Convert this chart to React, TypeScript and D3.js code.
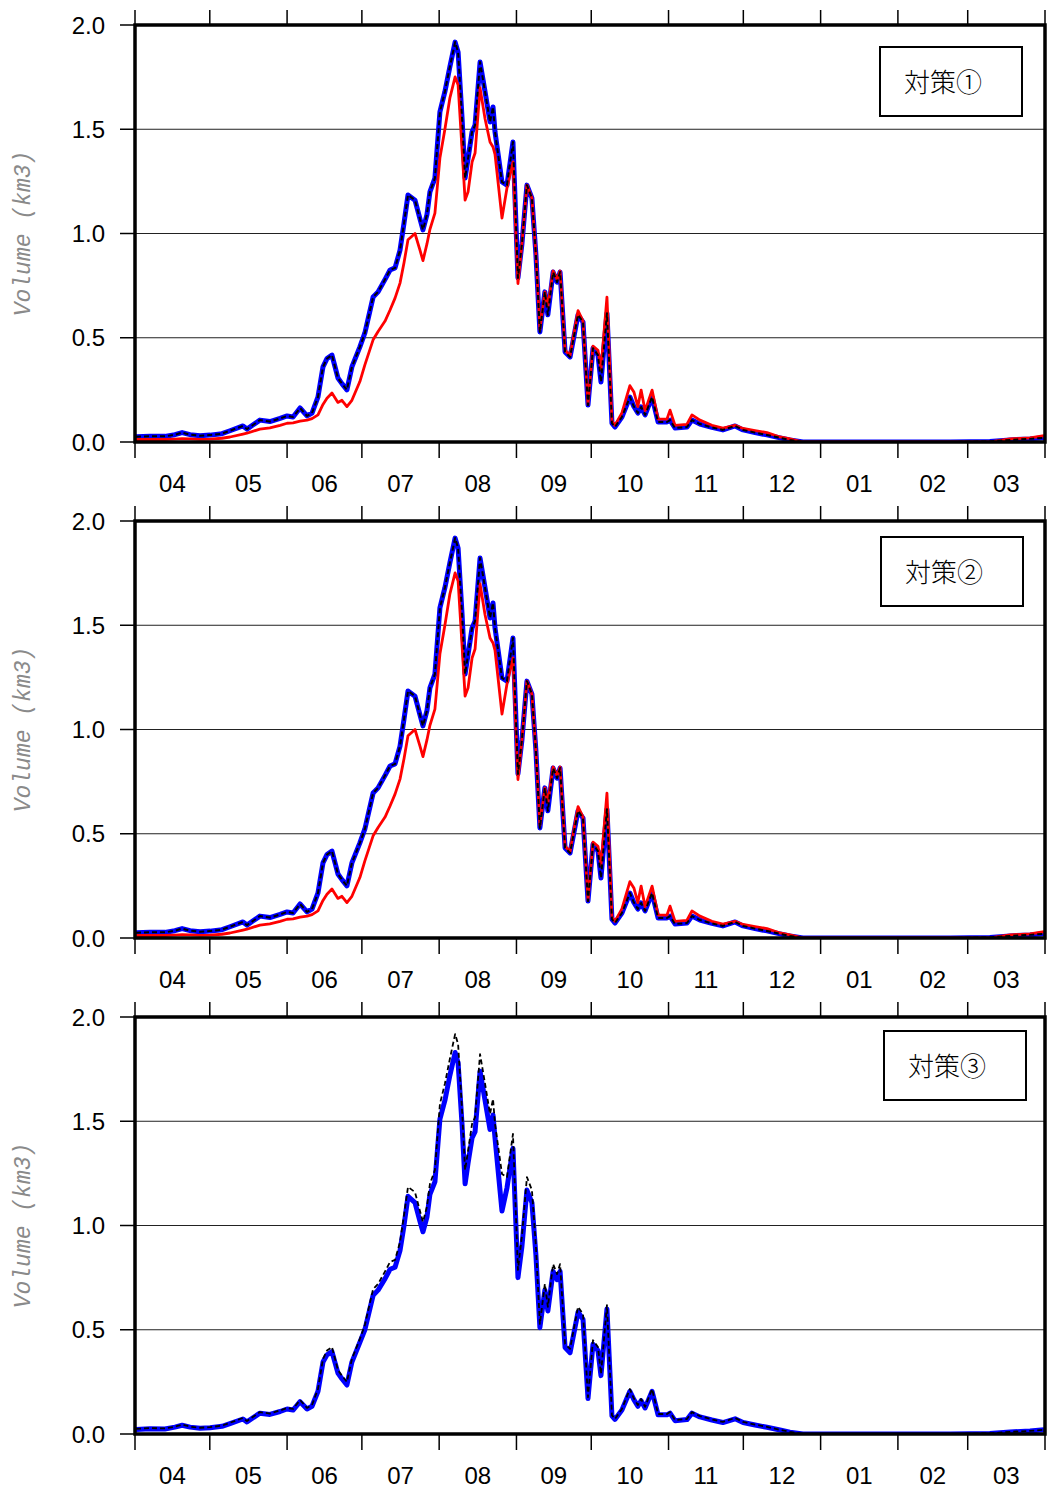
import React from "react";
import * as d3 from "d3";

// Day of the water year (0 = 1 April) for each sample
const DAYS = [
  0.4, 6, 12, 16, 18.9, 22.1, 26.1, 30.1, 34.9, 38.1,
  43.3, 44.9, 50.1, 54.1, 58.2, 61, 63.4, 66.2, 69, 71,
  73.4, 75.4, 77, 79, 81.4, 83, 85, 87, 90.2, 92.2,
  95.5, 97.5, 100.3, 102.3, 104.3, 106.3, 107.9, 109.5, 112.3, 114.3,
  115.5, 117.1, 118.3, 120.3, 122.3, 124.3, 126.3, 128.4, 129.6, 131.2,
  132.4, 133.6, 135.2, 136.4, 138.4, 140.4, 142.4, 143.6, 144.4, 147.2,
  149.2, 151.6, 153.6, 155.2, 157.2, 159.2, 160.8, 162.4, 164.4, 165.6,
  167.7, 169.3, 170.5, 172.5, 174.5, 177.7, 179.7, 181.7, 183.7, 185.7,
  186.9, 189.3, 191.3, 192.5, 195.3, 198.5, 200.1, 201.7, 203, 204.6,
  207.4, 209.8, 213.4, 214.6, 216.6, 221.4, 223.4, 226.6, 231.4, 235.8,
  240.7, 243.9, 248.7, 253.5, 258.7, 262.7, 267.9, 286.8, 306.8, 326.9,
  342.9, 351, 359, 364.6,
];

// Reference volume (km3), drawn dashed black and as the thick blue in panels 1-2
const BASE = [
  0.025, 0.028, 0.027, 0.035, 0.045, 0.035, 0.03, 0.033, 0.04, 0.054,
  0.077, 0.062, 0.105, 0.098, 0.113, 0.125, 0.12, 0.163, 0.125, 0.139,
  0.216, 0.36, 0.4, 0.417, 0.307, 0.28, 0.25, 0.36, 0.456, 0.523,
  0.695, 0.72, 0.78, 0.825, 0.835, 0.92, 1.05, 1.185, 1.16, 1.07,
  1.017, 1.09, 1.2, 1.266, 1.583, 1.68, 1.8, 1.918, 1.87, 1.55,
  1.266, 1.36, 1.487, 1.52, 1.822, 1.68, 1.535, 1.607, 1.487, 1.247,
  1.232, 1.439, 0.787, 0.95, 1.232, 1.17, 0.9, 0.528, 0.72, 0.61,
  0.815, 0.767, 0.815, 0.432, 0.408, 0.61, 0.575, 0.177, 0.45, 0.417,
  0.288, 0.618, 0.09, 0.072, 0.12, 0.216, 0.17, 0.139, 0.168, 0.13,
  0.216, 0.096, 0.096, 0.105, 0.067, 0.072, 0.105, 0.086, 0.07, 0.058,
  0.077, 0.058, 0.045, 0.034, 0.02, 0.01, 0, 0, 0, 0,
  0.003, 0.01, 0.015, 0.02,
];

// Red series of panels 1 and 2
const MEASURE_RED = [
  0.012, 0.012, 0.012, 0.014, 0.016, 0.015, 0.013, 0.014, 0.018, 0.024,
  0.038, 0.042, 0.062, 0.068, 0.08, 0.09, 0.092, 0.1, 0.105, 0.112,
  0.13, 0.18, 0.21, 0.235, 0.19, 0.2, 0.17, 0.2, 0.29, 0.37,
  0.49, 0.53, 0.58, 0.633, 0.69, 0.762, 0.86, 0.97, 1.0, 0.92,
  0.87, 0.95, 1.02, 1.098, 1.362, 1.5, 1.65, 1.751, 1.712, 1.4,
  1.16, 1.2, 1.343, 1.386, 1.698, 1.55, 1.439, 1.415, 1.38, 1.074,
  1.218, 1.343, 0.76, 0.95, 1.232, 1.17, 0.9, 0.54, 0.72, 0.65,
  0.82, 0.78, 0.82, 0.44, 0.415, 0.63, 0.58, 0.18, 0.46, 0.44,
  0.35, 0.695, 0.1, 0.08, 0.14, 0.27, 0.24, 0.17, 0.249, 0.15,
  0.249, 0.11, 0.11, 0.153, 0.08, 0.085, 0.13, 0.105, 0.08, 0.067,
  0.08, 0.065, 0.055, 0.045, 0.024, 0.015, 0, 0, 0, 0,
  0, 0.015, 0.02, 0.03,
];

// Blue series of panel 3
const MEASURE_BLUE3 = [
  0.022, 0.025, 0.024, 0.033, 0.042, 0.033, 0.028, 0.03, 0.037, 0.05,
  0.072, 0.058, 0.1, 0.094, 0.108, 0.12, 0.115, 0.155, 0.12, 0.133,
  0.205, 0.345, 0.38, 0.395, 0.292, 0.265, 0.235, 0.345, 0.44, 0.5,
  0.665, 0.69, 0.745, 0.79, 0.8, 0.88, 1.0, 1.14, 1.11, 1.02,
  0.97, 1.04, 1.15, 1.21, 1.51, 1.6, 1.72, 1.83, 1.78, 1.48,
  1.2, 1.3, 1.42, 1.45, 1.74, 1.6, 1.46, 1.53, 1.42, 1.07,
  1.18, 1.37, 0.75, 0.9, 1.17, 1.11, 0.86, 0.51, 0.69, 0.59,
  0.78, 0.74, 0.78, 0.415, 0.39, 0.585, 0.55, 0.17, 0.43, 0.4,
  0.28, 0.6, 0.087, 0.07, 0.115, 0.205, 0.165, 0.133, 0.16, 0.125,
  0.205, 0.092, 0.092, 0.1, 0.064, 0.069, 0.1, 0.082, 0.067, 0.055,
  0.073, 0.055, 0.043, 0.032, 0.019, 0.009, 0, 0, 0, 0,
  0.003, 0.01, 0.014, 0.02,
];

// Month boundaries (days from 1 April) and labels
const MONTH_EDGES = [0, 30, 61, 91, 122, 153, 183, 214, 244, 275, 306, 334, 365];
const MONTH_LABELS = ["04", "05", "06", "07", "08", "09", "10", "11", "12", "01", "02", "03"];
const Y_TICKS = [0, 0.5, 1.0, 1.5, 2.0];
const PANEL_TITLES = ["対策①", "対策②", "対策③"];

const W = 1048;
const H = 1490;
const PLOT_LEFT = 135;
const PLOT_RIGHT = 1045;
const PLOT_H = 417;
const PANEL_TOPS = [25, 521, 1017];
const LEGEND_POS = [
  { x: 880, y: 22 },
  { x: 881, y: 16 },
  { x: 884, y: 14 },
];

type Pt = [number, number];
const toPts = (vals: number[]): Pt[] =>
  DAYS.slice(0, vals.length).map((d, i) => [d, vals[i]] as Pt);

function Panel({ index }: { index: number }) {
  const top = PANEL_TOPS[index];
  const bottom = top + PLOT_H;
  const x = d3.scaleLinear().domain([0, 365]).range([PLOT_LEFT, PLOT_RIGHT]);
  const y = d3.scaleLinear().domain([0, 2]).range([bottom, top]);
  const line = d3
    .line<Pt>()
    .x((p) => x(p[0]))
    .y((p) => y(p[1]));

  const base = line(toPts(BASE)) || "";
  const red = line(toPts(MEASURE_RED)) || "";
  const blue3 = line(toPts(MEASURE_BLUE3)) || "";
  const lg = LEGEND_POS[index];
  const clipId = `clip${index}`;

  return (
    <g>
      <defs>
        <clipPath id={clipId}>
          <rect x={PLOT_LEFT} y={top} width={PLOT_RIGHT - PLOT_LEFT} height={PLOT_H} />
        </clipPath>
      </defs>
      {/* grid lines */}
      {Y_TICKS.filter((t) => t > 0 && t < 2).map((t) => (
        <line key={t} x1={PLOT_LEFT} x2={PLOT_RIGHT} y1={y(t)} y2={y(t)} stroke="#222" strokeWidth={1} />
      ))}
      {/* series */}
      <g clipPath={`url(#${clipId})`} fill="none" strokeLinejoin="round">
        {index < 2 ? (
          <>
            <path d={base} stroke="#0000ff" strokeWidth={5} />
            <path d={red} stroke="#ff0000" strokeWidth={2.8} />
            <path d={base} stroke="#000" strokeWidth={2} strokeDasharray="5 3" />
          </>
        ) : (
          <>
            <path d={blue3} stroke="#0000ff" strokeWidth={5} />
            <path d={base} stroke="#000" strokeWidth={1.8} strokeDasharray="5 3" />
          </>
        )}
      </g>
      {/* frame */}
      <rect
        x={PLOT_LEFT}
        y={top}
        width={PLOT_RIGHT - PLOT_LEFT}
        height={PLOT_H}
        fill="none"
        stroke="#000"
        strokeWidth={3.5}
      />
      {/* y ticks and labels */}
      {Y_TICKS.map((t) => (
        <g key={t}>
          <line x1={PLOT_LEFT - 15} x2={PLOT_LEFT} y1={y(t)} y2={y(t)} stroke="#000" strokeWidth={1.5} />
          <text
            x={105}
            y={y(t)}
            dy="0.36em"
            textAnchor="end"
            fontFamily="'Liberation Sans', Arial, sans-serif"
            fontSize={24}
            fill="#000"
          >
            {t.toFixed(1)}
          </text>
        </g>
      ))}
      {/* month ticks top and bottom */}
      {MONTH_EDGES.map((d) => (
        <g key={d}>
          <line x1={x(d)} x2={x(d)} y1={top - 15} y2={top} stroke="#000" strokeWidth={1.5} />
          <line x1={x(d)} x2={x(d)} y1={bottom} y2={bottom + 16} stroke="#000" strokeWidth={1.5} />
        </g>
      ))}
      {MONTH_LABELS.map((m, i) => (
        <text
          key={m}
          x={x((MONTH_EDGES[i] + MONTH_EDGES[i + 1]) / 2)}
          y={bottom + 50}
          textAnchor="middle"
          fontFamily="'Liberation Sans', Arial, sans-serif"
          fontSize={24}
          fill="#000"
        >
          {m}
        </text>
      ))}
      {/* y axis title */}
      <text
        transform={`translate(30, ${(top + bottom) / 2}) rotate(-90)`}
        textAnchor="middle"
        fontFamily="'Liberation Mono', 'DejaVu Sans Mono', monospace"
        fontStyle="italic"
        fontSize={23}
        fill="#8a8a8a"
      >
        Volume (km3)
      </text>
      {/* panel legend box */}
      <rect x={lg.x} y={top + lg.y} width={142} height={69} fill="#fff" stroke="#000" strokeWidth={2} />
      <text
        x={lg.x + 63}
        y={top + lg.y + 45}
        textAnchor="middle"
        fontFamily="'Noto Sans CJK JP', sans-serif"
        fontWeight={300}
        fontSize={26}
        fill="#000"
      >
        {PANEL_TITLES[index]}
      </text>
    </g>
  );
}

export default function App() {
  return (
    <svg
      width={W}
      height={H}
      viewBox={`0 0 ${W} ${H}`}
      style={{ position: "absolute", left: 0, top: 0, background: "#fff" }}
    >
      <rect x={0} y={0} width={W} height={H} fill="#fff" />
      {PANEL_TOPS.map((_, i) => (
        <Panel key={i} index={i} />
      ))}
    </svg>
  );
}
